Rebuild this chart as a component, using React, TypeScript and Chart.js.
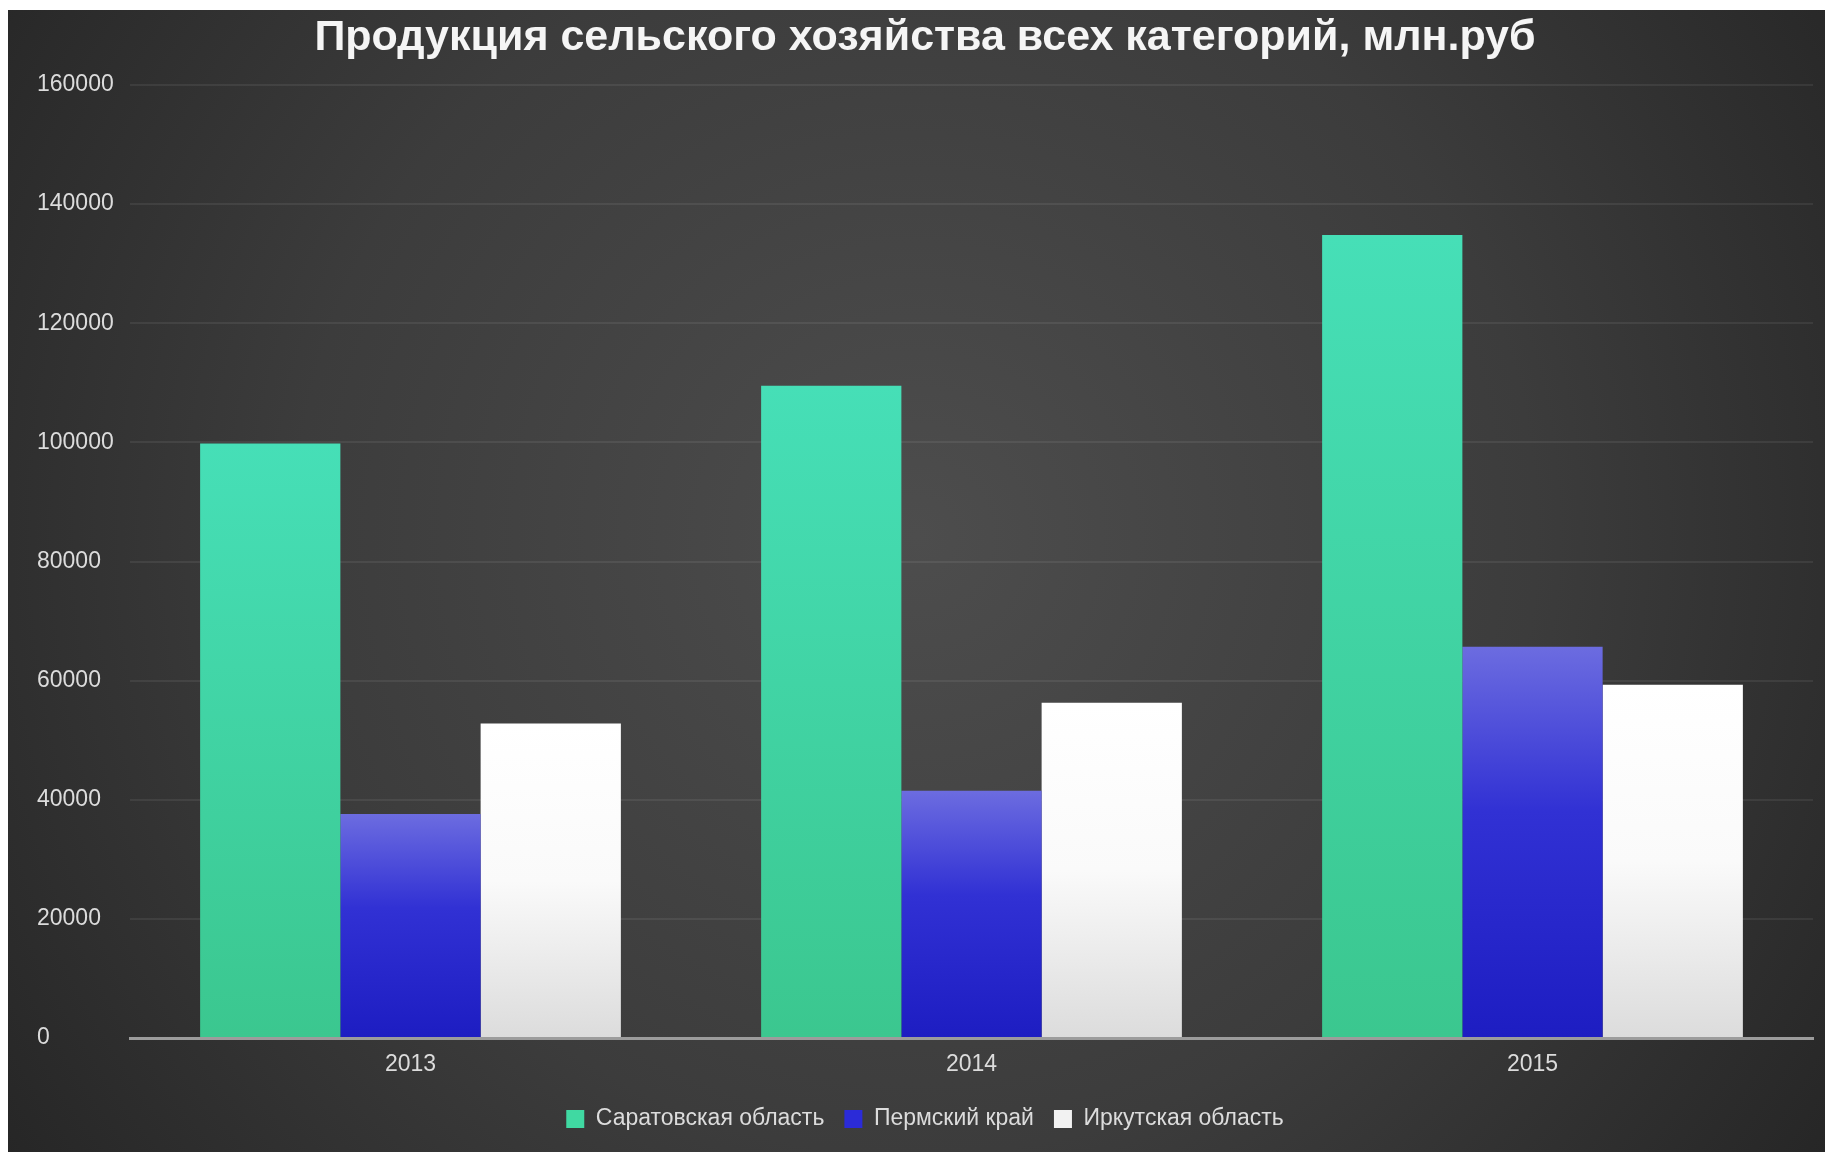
import React, { useEffect, useRef } from "react";
import { Chart, registerables } from "chart.js";

Chart.register(...registerables);

const titleText = "Продукция сельского хозяйства всех категорий, млн.руб";
const categories = ["2013", "2014", "2015"];
const seriesNames = ["Саратовская область", "Пермский край", "Иркутская область"];
const saratov = [99800, 109500, 134800];
const perm = [37600, 41500, 65700];
const irkutsk = [52800, 56300, 59300];
const yTicks = [0, 20000, 40000, 60000, 80000, 100000, 120000, 140000, 160000];

const gradientStops: [number, string][][] = [
  [[0, "#46dfb7"], [1, "#3bc78f"]],
  [[0, "#6c6ce0"], [0.42, "#3131d4"], [1, "#1d1dc2"]],
  [[0, "#ffffff"], [0.5, "#fafafa"], [1, "#dcdcdc"]],
];
const legendColors = ["#40d9a2", "#2b2bd8", "#f2f2f2"];

const FONT = "'Liberation Sans', Arial, sans-serif";

function barFill(i: number) {
  return (ctx: any) => {
    const chart = ctx.chart;
    const ys = chart.scales && chart.scales.y;
    if (!chart.chartArea || !ys || ctx.type !== "data") return gradientStops[i][0][1];
    const top = ys.getPixelForValue(ctx.raw);
    const base = ys.getPixelForValue(0);
    const g = chart.ctx.createLinearGradient(0, top, 0, base);
    gradientStops[i].forEach(([o, c]) => g.addColorStop(o, c));
    return g;
  };
}

const bgPlugin = {
  id: "bgPlugin",
  beforeDraw(chart: any) {
    const { ctx, width, height } = chart;
    ctx.save();
    const g = ctx.createRadialGradient(width * 0.5, height * 0.46, 0, width * 0.5, height * 0.46, width * 0.62);
    g.addColorStop(0, "#4d4d4d");
    g.addColorStop(0.55, "#3c3c3c");
    g.addColorStop(1, "#252525");
    ctx.fillStyle = g;
    ctx.fillRect(0, 0, width, height);
    ctx.restore();
  },
};

export default function App() {
  const ref = useRef<HTMLCanvasElement | null>(null);
  useEffect(() => {
    if (!ref.current) return;
    const chart = new Chart(ref.current, {
      type: "bar",
      data: {
        labels: categories,
        datasets: [
          { label: seriesNames[0], data: saratov, backgroundColor: barFill(0), borderWidth: 0 },
          { label: seriesNames[1], data: perm, backgroundColor: barFill(1), borderWidth: 0 },
          { label: seriesNames[2], data: irkutsk, backgroundColor: barFill(2), borderWidth: 0 },
        ],
      },
      options: {
        animation: false,
        responsive: true,
        maintainAspectRatio: false,
        layout: { padding: { left: 29, right: 12, top: 0, bottom: 11.5 } },
        datasets: { bar: { categoryPercentage: 0.75, barPercentage: 1 } },
        plugins: {
          title: {
            display: true,
            text: titleText,
            color: "#f5f5f5",
            font: { family: FONT, size: 43, weight: "bold" },
            padding: { top: 2, bottom: 21.4 },
          },
          legend: {
            position: "bottom",
            labels: {
              color: "#dcdcdc",
              font: { family: FONT, size: 23 },
              boxWidth: 18,
              boxHeight: 18,
              padding: 20,
              generateLabels: () =>
                seriesNames.map((n, i) => ({
                  text: n,
                  fillStyle: legendColors[i],
                  strokeStyle: legendColors[i],
                  lineWidth: 0,
                  hidden: false,
                  datasetIndex: i,
                  fontColor: "#dcdcdc",
                })),
            },
          },
          tooltip: { enabled: false },
        },
        scales: {
          x: {
            grid: { display: false, drawTicks: false },
            border: { display: true, color: "#9c9c9c", width: 3 },
            ticks: { color: "#dcdcdc", font: { family: FONT, size: 23 }, padding: 13 },
            afterFit: (s: any) => {
              s.height = 49.5;
            },
          },
          y: {
            min: yTicks[0],
            max: yTicks[yTicks.length - 1],
            afterBuildTicks: (s: any) => {
              s.ticks = yTicks.map((v) => ({ value: v }));
            },
            grid: { color: "rgba(255,255,255,0.07)", lineWidth: 2, drawTicks: false },
            border: { display: false },
            ticks: {
              color: "#dcdcdc",
              font: { family: FONT, size: 23 },
              crossAlign: "far",
              callback: (v: any) => String(v),
            },
            afterFit: (s: any) => {
              s.width = 93;
            },
          },
        },
      },
      plugins: [bgPlugin],
    });
    return () => chart.destroy();
  }, []);
  return (
    <div style={{ position: "fixed", left: 8, top: 10, width: 1817, height: 1142 }}>
      <canvas ref={ref} />
    </div>
  );
}
